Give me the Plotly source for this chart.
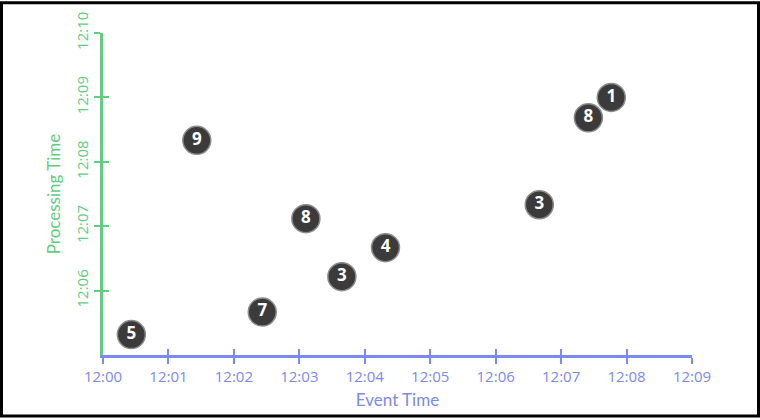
import plotly.graph_objects as go

labels = ["5", "9", "7", "8", "3", "4", "3", "8", "1"]
event_time = ["12:00:26", "12:01:26", "12:02:26", "12:03:06", "12:03:39",
              "12:04:19", "12:06:40", "12:07:25", "12:07:46"]
processing_time = ["12:05:19", "12:08:20", "12:05:40", "12:07:07", "12:06:13",
                   "12:06:40", "12:07:20", "12:08:41", "12:09:00"]
x_ticks = ["12:00", "12:01", "12:02", "12:03", "12:04", "12:05", "12:06", "12:07", "12:08", "12:09"]
y_ticks = ["12:06", "12:07", "12:08", "12:09", "12:10"]

DAY = "2024-01-01 "
xs = [DAY + t for t in event_time]
ys = [DAY + t for t in processing_time]
xtv = [DAY + t for t in x_ticks]
ytv = [DAY + t for t in y_ticks]

GREEN = "#62cd7f"
BLUE = "#7b8af0"
FONT = "Lato"

fig = go.Figure()
fig.add_trace(go.Scatter(
    x=xs, y=ys, mode="markers+text", text=labels,
    textposition="middle center",
    marker=dict(size=28, color="#3b3b3b", line=dict(color="#8c8c8c", width=1.5)),
    textfont=dict(color="white", size=17, family="Open Sans", weight="bold"),
    hoverinfo="skip", showlegend=False, cliponaxis=False,
))
# invisible trace to anchor the overlay axes (for the crossing ticks)
fig.add_trace(go.Scatter(x=[xs[0]], y=[ys[0]], xaxis="x2", yaxis="y2",
                         mode="markers", marker=dict(opacity=0), showlegend=False,
                         hoverinfo="skip"))

xr = [DAY + "12:00", DAY + "12:09"]
yr = [DAY + "12:05", DAY + "12:10"]

fig.update_layout(
    width=760, height=420,
    margin=dict(l=103, r=68, t=32, b=63),
    paper_bgcolor="white", plot_bgcolor="white",
    xaxis=dict(
        type="date", range=xr, tickvals=xtv, ticktext=x_ticks,
        showgrid=False, zeroline=False,
        showline=True, linecolor=BLUE, linewidth=3,
        ticks="outside", ticklen=6, tickwidth=1.5, tickcolor=BLUE,
        tickfont=dict(color=BLUE, size=15, family="Open Sans"),
        title=dict(text="Event Time", font=dict(color=BLUE, size=17, family=FONT), standoff=10),
    ),
    yaxis=dict(
        type="date", range=yr, tickvals=ytv, ticktext=y_ticks,
        showgrid=False, zeroline=False,
        showline=True, linecolor=GREEN, linewidth=3,
        ticks="outside", ticklen=6, tickwidth=1.5, tickcolor=GREEN,
        tickangle=-90,
        tickfont=dict(color=GREEN, size=15, family="Open Sans"),
        title=dict(text="Processing Time", font=dict(color=GREEN, size=17, family=FONT), standoff=8),
    ),
    xaxis2=dict(
        type="date", range=xr, tickvals=xtv, overlaying="x", anchor="y2",
        showticklabels=False, showgrid=False, zeroline=False, showline=False,
        ticks="inside", ticklen=6, tickwidth=1.5, tickcolor=BLUE, side="bottom",
    ),
    yaxis2=dict(
        type="date", range=yr, tickvals=ytv, overlaying="y", anchor="x2",
        showticklabels=False, showgrid=False, zeroline=False, showline=False,
        ticks="inside", ticklen=6, tickwidth=1.5, tickcolor=GREEN, side="left",
    ),
    shapes=[dict(
        type="rect", xref="paper", yref="paper", layer="above",
        x0=(1.5 - 103) / 589, x1=(758.5 - 103) / 589,
        y0=(357 - 418.5) / 325, y1=(357 - 1.5) / 325,
        line=dict(color="black", width=3), fillcolor="rgba(0,0,0,0)",
    )],
)

fig.write_html("out.html", config={"displayModeBar": False},
               post_script="document.body.style.margin='0';")
